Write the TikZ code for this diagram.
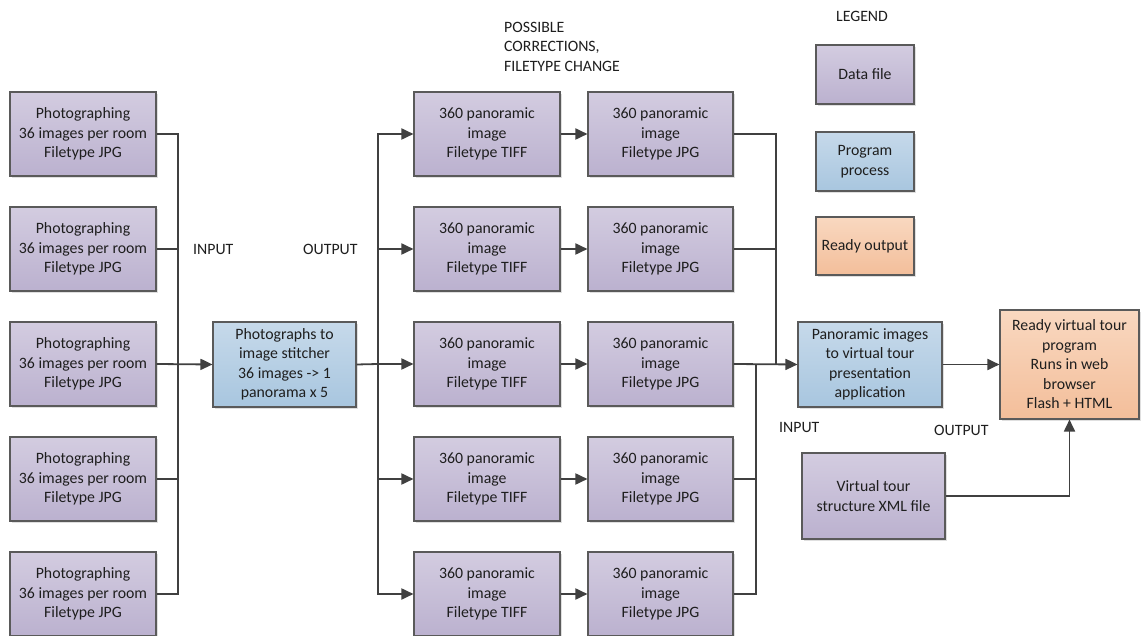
\documentclass[tikz,border=0pt]{standalone}
\usepackage{fontspec}
\setmainfont{Carlito}
\usetikzlibrary{arrows.meta,shadows}
\definecolor{edgec}{HTML}{5A5A5A}
\definecolor{linec}{HTML}{404040}
\definecolor{ptop}{HTML}{D3CCE0}
\definecolor{pbot}{HTML}{BBB1CF}
\definecolor{btop}{HTML}{C6D9EA}
\definecolor{bbot}{HTML}{A8C6DF}
\definecolor{otop}{HTML}{F9D8C0}
\definecolor{obot}{HTML}{F3BE9A}
\definecolor{txt}{HTML}{1E1E1E}
\tikzset{
  box/.style={draw=edgec, line width=1.1pt, align=center, inner sep=2pt,
    font=\fontsize{15.8}{19.5}\selectfont, text=txt,
    drop shadow={opacity=0.25, shadow xshift=2pt, shadow yshift=-2pt}},
  datafile/.style={box, top color=ptop, bottom color=pbot},
  process/.style={box, top color=btop, bottom color=bbot},
  ready/.style={box, top color=otop, bottom color=obot},
  lbl/.style={font=\fontsize{15.8}{19.5}\selectfont, text=txt, inner sep=0pt},
  conn/.style={draw=linec, line width=1.8pt},
  arr/.style={conn, -{Triangle[length=12pt,width=11pt]}},
}
\begin{document}
\begin{tikzpicture}[x=1pt,y=-1pt]
\useasboundingbox[fill=white] (0,0) rectangle (1144,636);
% columns
\foreach \i/\y in {1/134,2/249,3/364,4/479,5/594}{
  \node[datafile, minimum width=146pt, minimum height=84pt] (p\i) at (83,\y)
    {Photographing\\36 images per room\\Filetype JPG};
  \node[datafile, minimum width=146pt, minimum height=84pt] (t\i) at (487,\y)
    {360 panoramic\\image\\Filetype TIFF};
  \node[datafile, minimum width=145pt, minimum height=84pt] (j\i) at (660.5,\y)
    {360 panoramic\\image\\Filetype JPG};
}
\node[process, minimum width=143pt, minimum height=85pt] (st) at (284.5,364.5)
  {Photographs to\\image stitcher\\36 images -> 1\\panorama x 5};
\node[process, minimum width=144pt, minimum height=85pt] (app) at (870,364.5)
  {Panoramic images\\to virtual tour\\presentation\\application};
\node[ready, minimum width=139pt, minimum height=109pt] (rd) at (1069.5,364.5)
  {Ready virtual tour\\program\\Runs in web\\browser\\Flash + HTML};
\node[datafile, minimum width=143pt, minimum height=86pt] (xml) at (873.5,496)
  {Virtual tour\\structure XML file};
% legend
\node[lbl] (lg) at (862,16) {LEGEND};
\node[datafile, minimum width=98pt, minimum height=59pt] (l1) at (865,74.5) {Data file};
\node[process, minimum width=98pt, minimum height=59pt] (l2) at (865,161.5) {Program\\process};
\node[ready, minimum width=98pt, minimum height=58pt] (l3) at (865,246) {Ready output};
% labels
\node[lbl, anchor=west] (in1) at (193,249) {INPUT};
\node[lbl, anchor=west] (out1) at (303,249) {OUTPUT};
\node[lbl, anchor=west] (in2) at (779,427) {INPUT};
\node[lbl, anchor=west] (out2) at (934,430) {OUTPUT};
\node[lbl, anchor=north west, align=left] (pc) at (504,22)
  {POSSIBLE\\CORRECTIONS,\\FILETYPE CHANGE};
% buses
\coordinate (bus) at (178,364);
\coordinate (sbus) at (378,364);
\coordinate (cA) at (776,364);
\coordinate (cB) at (756,364);
% left -> stitcher
\draw[conn] (p1.east) -| (bus);
\draw[conn] (p5.east) -| (bus);
\draw[conn] (p2.east) -- (p2.east -| bus);
\draw[conn] (p4.east) -- (p4.east -| bus);
\draw[arr] (p3.east) -- (st.west);
% stitcher -> TIFF
\draw[conn] (st.east) -- (sbus);
\foreach \i in {1,2,4,5}{ \draw[arr] (sbus) |- (t\i.west); }
\draw[arr] (sbus) -- (t3.west);
% TIFF -> JPG
\foreach \i in {1,...,5}{ \draw[arr] (t\i.east) -- (j\i.west); }
% JPG -> app
\draw[conn] (j1.east) -| (cA);
\draw[conn] (j2.east) -- (j2.east -| cA);
\draw[conn] (j5.east) -| (cB);
\draw[conn] (j4.east) -- (j4.east -| cB);
\draw[arr] (j3.east) -- (app.west);
% app -> ready
\draw[arr] (app.east) -- (rd.west);
\draw[arr] (xml.east) -| (rd.south);
\end{tikzpicture}
\end{document}
